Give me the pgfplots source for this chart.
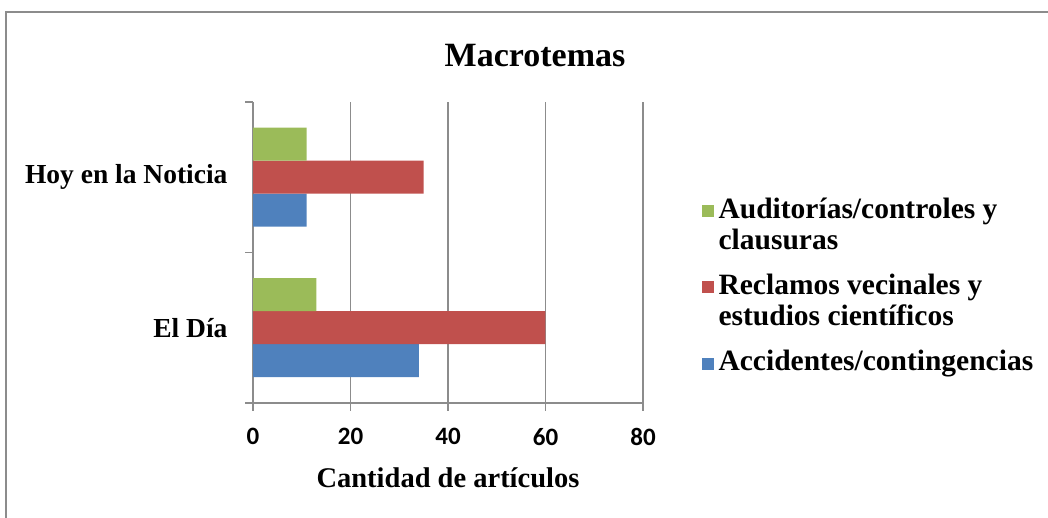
\documentclass[border=0pt]{standalone}
\usepackage{pgfplots}
\pgfplotsset{compat=1.18}
\usepackage{fontspec}
\setmainfont{Liberation Serif}
\newfontfamily\tickfont{Carlito}
\definecolor{cblue}{RGB}{79,129,189}
\definecolor{cred}{RGB}{192,80,77}
\definecolor{cgreen}{RGB}{155,187,89}
\definecolor{axgray}{RGB}{140,140,140}
\begin{document}
\begin{tikzpicture}[x=1pt,y=1pt]
\useasboundingbox (0,0) rectangle (1048,518);
\begin{scope}
\clip (0,0) rectangle (1048,518);
\draw[axgray, line width=1.8pt] (6,506) rectangle (1060,-10);
\end{scope}
\node[font=\fontsize{34}{36}\selectfont\bfseries] at (535,462) {Macrotemas};
\begin{axis}[
  at={(253pt,115pt)}, anchor=south west,
  scale only axis, width=390pt, height=301pt,
  xbar, bar width=33pt,
  xmin=0, xmax=80, ymin=-0.5, ymax=1.5,
  axis x line*=bottom, axis y line*=left,
  axis line style={axgray, line width=1.8pt},
  xtick={0,20,40,60,80},
  xmajorgrids, major grid style={axgray, line width=1.8pt},
  tick align=outside, major tick length=8pt,
  tick style={axgray, line width=1.8pt},
  ytick={0,1}, yticklabels={El Día, Hoy en la Noticia},
  ytick style={draw=none},
  extra y ticks={-0.5,0.5,1.5}, extra y tick labels={},
  extra y tick style={ytick style={draw=axgray}, grid=none},
  /pgf/number format/assume math mode=true,
  xticklabel style={font=\tickfont\fontsize{25}{28}\selectfont\bfseries, yshift=-14pt},
  yticklabel style={font=\fontsize{27.5}{30}\selectfont\bfseries, xshift=-14pt},
  xlabel={Cantidad de artículos},
  xlabel style={font=\fontsize{28.5}{31}\selectfont\bfseries, yshift=-15pt},
  legend style={at={(1.151,0.70)}, anchor=north west, draw=none, fill=none,
    font=\fontsize{29.5}{31}\selectfont\bfseries, row sep=10pt,
    nodes={text depth=}, cells={anchor=west}, inner xsep=0pt},
  reverse legend,
]
\addplot[fill=cblue, draw=none, bar shift=-33pt,
  legend image code/.code={\fill[cblue] (0pt,-6pt) rectangle (11.5pt,6pt);}] coordinates {(34,0) (11,1)};
\addplot[fill=cred, draw=none, bar shift=0pt,
  legend image code/.code={\fill[cred] (0pt,10pt) rectangle (11.5pt,22pt);}] coordinates {(60,0) (35,1)};
\addplot[fill=cgreen, draw=none, bar shift=33pt,
  legend image code/.code={\fill[cgreen] (0pt,10pt) rectangle (11.5pt,22pt);}] coordinates {(13,0) (11,1)};
\legend{{\hspace{3pt}\begin{tabular}[t]{@{}l@{}}Accidentes/contingencias\end{tabular}},
  {\hspace{3pt}\begin{tabular}[t]{@{}l@{}}Reclamos vecinales y\\estudios científicos\end{tabular}},
  {\hspace{3pt}\begin{tabular}[t]{@{}l@{}}Auditorías/controles y\\clausuras\end{tabular}}}
\end{axis}
\end{tikzpicture}
\end{document}
